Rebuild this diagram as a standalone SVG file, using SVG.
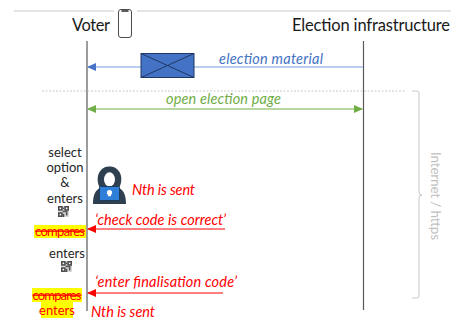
<svg xmlns="http://www.w3.org/2000/svg" width="451" height="331" viewBox="0 0 451 331">
  <style>
    text { font-family: Lato, "Liberation Sans", Arial, sans-serif; }
    .actor { font-size: 16.5px; fill: #1a1a1a; }
    .side { font-size: 13px; fill: #262626; text-anchor: middle; }
    .lbl { font-size: 14.5px; font-style: italic; }
    .red { fill: #ff0000; }
    .strike { text-decoration: line-through; }
    .life { stroke: #595959; stroke-width: 1.2; fill: none; }
    .rule { stroke: #c8c8c8; stroke-width: 1; fill: none; }
    .hl { fill: #ffff00; }
  </style>
  <defs>
    <marker id="ahBlue" markerWidth="10" markerHeight="8" refX="8" refY="4" orient="auto-start-reverse" markerUnits="userSpaceOnUse">
      <path d="M0,0 L9,4 L0,8 Z" fill="#4472c4"/>
    </marker>
    <marker id="ahGreen" markerWidth="10" markerHeight="8" refX="8" refY="4" orient="auto-start-reverse" markerUnits="userSpaceOnUse">
      <path d="M0,0 L9,4 L0,8 Z" fill="#70ad47"/>
    </marker>
    <marker id="ahRed" markerWidth="10" markerHeight="8" refX="8" refY="4" orient="auto-start-reverse" markerUnits="userSpaceOnUse">
      <path d="M0,0 L9,4 L0,8 Z" fill="#ff0000"/>
    </marker>
    <!-- small QR-code glyph -->
    <symbol id="qr" viewBox="0 0 7 7">
      <rect width="7" height="7" fill="#d9d9d9"/>
      <g fill="#4d4d4d">
        <rect x="0" y="0" width="3" height="3"/><rect x="4" y="0" width="3" height="3"/><rect x="0" y="4" width="3" height="3"/>
        <rect x="3" y="3" width="1" height="1"/><rect x="5" y="4" width="1" height="2"/><rect x="3" y="5" width="1" height="2"/>
        <rect x="4" y="3" width="2" height="1"/><rect x="3" y="1" width="1" height="1"/>
      </g>
      <g fill="#ffffff">
        <rect x="1" y="1" width="1" height="1"/><rect x="5" y="1" width="1" height="1"/><rect x="1" y="5" width="1" height="1"/>
      </g>
    </symbol>
  </defs>

  <rect width="451" height="331" fill="#ffffff"/>

  <!-- top rule, interrupted by the phone -->
  <line class="rule" x1="14" y1="11" x2="114" y2="11"/>
  <line class="rule" x1="137" y1="11" x2="451" y2="11"/>

  <!-- Voter actor -->
  <g id="voter">
    <text class="actor" x="72" y="31" textLength="38">Voter</text>
    <rect x="118.5" y="9.5" width="13" height="28" rx="2.5" fill="#ffffff" stroke="#4d4d4d" stroke-width="1"/>
    <line x1="121.5" y1="11" x2="128.5" y2="11" stroke="#333333" stroke-width="1.6"/>
    <line class="life" x1="87" y1="41" x2="87" y2="311"/>
  </g>

  <!-- Election infrastructure actor -->
  <g id="infrastructure">
    <text class="actor" x="292" y="31" textLength="158">Election infrastructure</text>
    <line class="life" x1="363.5" y1="41" x2="363.5" y2="310"/>
  </g>

  <!-- internet section separator and brace -->
  <g id="internet">
    <line x1="42" y1="91" x2="406" y2="91" stroke="#bdbdbd" stroke-width="0.8" stroke-dasharray="2,1.5"/>
    <path d="M412,91 H417 Q419,91 419,93 V192 Q419,195 422,195 Q419,195 419,198 V296 Q419,298 417,298 H412" fill="none" stroke="#c8c8c8" stroke-width="1"/>
    <text x="0" y="0" transform="translate(431,152) rotate(90)" font-size="13.5" fill="#bfbfbf" textLength="88">Internet / https</text>
  </g>

  <!-- connectors -->
  <g id="connectors">
    <line x1="363" y1="67" x2="88" y2="67" stroke="#7a9ddc" stroke-width="1.2" marker-end="url(#ahBlue)"/>
    <line x1="88" y1="109" x2="362" y2="109" stroke="#70ad47" stroke-width="1.2" marker-start="url(#ahGreen)" marker-end="url(#ahGreen)"/>
    <line x1="225" y1="229" x2="88" y2="229" stroke="#ff0000" stroke-width="1" marker-end="url(#ahRed)"/>
    <line x1="223" y1="293" x2="88" y2="293" stroke="#ff0000" stroke-width="1" marker-end="url(#ahRed)"/>
  </g>

  <!-- election material envelope -->
  <g id="envelope">
    <rect x="141" y="53.5" width="53" height="24" fill="#4472c4" stroke="#1f3864" stroke-width="1"/>
    <path d="M141,53.5 L194,77.5 M194,53.5 L141,77.5" stroke="#1f3864" stroke-width="1"/>
    <text class="lbl" x="219" y="63.5" fill="#4472c4" textLength="104">election material</text>
  </g>

  <g id="open-page">
    <text class="lbl" x="166" y="104" fill="#70ad47" textLength="115">open election page</text>
  </g>

  <!-- attacker -->
  <g id="attacker">
    <path d="M93,204 C93,194 96,190 100,188 C97,183 97,176 99.5,172 C102.5,167.5 106,166.5 109.5,166.5 C113,166.5 116.5,167.5 119.5,172 C122,176 122,183 119,188 C123,190 126,194 126,204 Z" fill="#2e3f50"/>
    <ellipse cx="109.5" cy="179.5" rx="5.5" ry="7.2" fill="#ffffff"/>
    <rect x="99.5" y="186.5" width="20" height="14" rx="1" fill="#2f7ed8" stroke="#1d3b5a" stroke-width="1"/>
    <rect x="96" y="201" width="27" height="2.5" rx="1" fill="#2e3f50"/>
    <circle cx="109.5" cy="192.5" r="2.6" fill="#ffffff"/>
    <rect x="108" y="194" width="3" height="2.2" fill="#ffffff"/>
    <text class="lbl red" x="132" y="195" textLength="63">Nth is sent</text>
  </g>

  <!-- voter side notes -->
  <g id="select-enter">
    <text class="side" x="65" y="157">select</text>
    <text class="side" x="65" y="172">option</text>
    <text class="side" x="65" y="187">&amp;</text>
    <text class="side" x="65" y="203">enters</text>
    <use href="#qr" x="58" y="206" width="11" height="11"/>
  </g>

  <g id="check-code">
    <text class="lbl red" x="95" y="225" textLength="131">‘check code is correct’</text>
    <rect class="hl" x="34" y="225" width="52" height="13"/>
    <text class="side red strike" x="60" y="235.5" textLength="50">compares</text>
  </g>

  <g id="enter-final">
    <text class="side" x="67" y="258">enters</text>
    <use href="#qr" x="61" y="261" width="11" height="11"/>
  </g>

  <g id="final-code">
    <text class="lbl red" x="95" y="287" textLength="142">‘enter finalisation code’</text>
    <rect class="hl" x="32" y="288" width="50" height="14"/>
    <text class="side red strike" x="57" y="299.5" textLength="49">compares</text>
    <rect class="hl" x="41" y="302" width="32" height="16"/>
    <text class="side red" x="57" y="314.5">enters</text>
    <text class="lbl red" x="91" y="317" textLength="64">Nth is sent</text>
  </g>
</svg>
